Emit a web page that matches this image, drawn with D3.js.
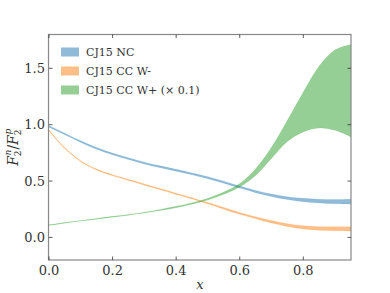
<!DOCTYPE html>
<html>
<head>
<meta charset="utf-8">
<script src="https://cdn.jsdelivr.net/npm/d3@7"></script>
<style>
  body { margin: 0; background: #fff; }
</style>
</head>
<body>
<svg id="chart" width="390" height="293"></svg>
<script>
// x grid shared by all three bands
const xs = [0, 0.05, 0.1, 0.15, 0.2, 0.25, 0.3, 0.35, 0.4, 0.45, 0.5, 0.55, 0.6, 0.65, 0.7, 0.75, 0.8, 0.85, 0.9, 0.95];

// CJ15 NC band
const ncLow  = [0.977, 0.911, 0.843, 0.783, 0.733, 0.691, 0.652, 0.619, 0.588, 0.556, 0.520, 0.481, 0.438, 0.397, 0.363, 0.336, 0.317, 0.305, 0.299, 0.297];
const ncHigh = [0.991, 0.925, 0.857, 0.797, 0.748, 0.706, 0.668, 0.635, 0.604, 0.572, 0.538, 0.499, 0.456, 0.417, 0.385, 0.362, 0.347, 0.339, 0.337, 0.339];

// CJ15 CC W- band
const wmLow  = [0.945, 0.787, 0.672, 0.597, 0.547, 0.506, 0.464, 0.423, 0.382, 0.341, 0.297, 0.251, 0.205, 0.165, 0.128, 0.097, 0.075, 0.064, 0.060, 0.058];
const wmHigh = [0.955, 0.796, 0.681, 0.606, 0.557, 0.516, 0.475, 0.434, 0.393, 0.353, 0.310, 0.265, 0.221, 0.184, 0.150, 0.122, 0.104, 0.096, 0.094, 0.096];

// CJ15 CC W+ band (scaled by 0.1)
const wpLow  = [0.107, 0.127, 0.145, 0.162, 0.180, 0.197, 0.216, 0.239, 0.264, 0.294, 0.332, 0.383, 0.448, 0.550, 0.700, 0.850, 0.935, 0.970, 0.950, 0.890];
const wpHigh = [0.112, 0.132, 0.150, 0.168, 0.187, 0.204, 0.224, 0.249, 0.276, 0.308, 0.348, 0.403, 0.478, 0.610, 0.800, 1.040, 1.290, 1.520, 1.665, 1.712];

const seriesNames = ["CJ15 NC", "CJ15 CC W-", "CJ15 CC W+ (\u00d7 0.1)"];
const seriesColors = ["#1f77b4", "#ff7f0e", "#2ca02c"];
const xTicks = [0, 0.2, 0.4, 0.6, 0.8];
const yTicks = [0, 0.5, 1.0, 1.5];

const width = 390, height = 293;
const margin = { top: 34.5, right: 39, bottom: 33, left: 49 };
const font = "'DejaVu Serif', 'Liberation Serif', serif";

const svg = d3.select('#chart').attr('font-family', font);

const x = d3.scaleLinear().domain([0, 0.95]).range([margin.left, width - margin.right]);
const y = d3.scaleLinear().domain([-0.2, 1.8]).range([height - margin.bottom, margin.top]);

const bands = [
  { low: ncLow, high: ncHigh },
  { low: wmLow, high: wmHigh },
  { low: wpLow, high: wpHigh }
];

const area = d3.area()
  .x((d, i) => x(xs[i]))
  .curve(d3.curveCatmullRom.alpha(0.5));

// clip to plotting region
svg.append('clipPath').attr('id', 'clip')
  .append('rect')
  .attr('x', x(0)).attr('y', y(1.8))
  .attr('width', x(0.95) - x(0)).attr('height', y(-0.2) - y(1.8));

const plot = svg.append('g').attr('clip-path', 'url(#clip)');

bands.forEach((b, k) => {
  plot.append('path')
    .datum(xs)
    .attr('d', area.y0((d, i) => y(b.low[i])).y1((d, i) => y(b.high[i])))
    .attr('fill', seriesColors[k])
    .attr('fill-opacity', 0.5)
    .attr('stroke', seriesColors[k])
    .attr('stroke-opacity', 0.2)
    .attr('stroke-width', 0.5);
});

// frame
const x0 = x(0), x1 = x(0.95), y0 = y(-0.2), y1 = y(1.8);
svg.append('rect')
  .attr('x', x0 - 0.5).attr('y', y1)
  .attr('width', x1 - x0 + 0.5).attr('height', y0 - y1)
  .attr('fill', 'none')
  .attr('stroke', '#888')
  .attr('stroke-width', 1.2);

// inward ticks on all four sides
const tickLen = 3.5;
const ticks = svg.append('g').attr('stroke', '#333').attr('stroke-width', 0.8);
xTicks.forEach(t => {
  ticks.append('line').attr('x1', x(t)).attr('x2', x(t)).attr('y1', y0).attr('y2', y0 - tickLen);
  ticks.append('line').attr('x1', x(t)).attr('x2', x(t)).attr('y1', y1).attr('y2', y1 + tickLen);
});
yTicks.forEach(t => {
  ticks.append('line').attr('x1', x0).attr('x2', x0 + tickLen).attr('y1', y(t)).attr('y2', y(t));
  ticks.append('line').attr('x1', x1).attr('x2', x1 - tickLen).attr('y1', y(t)).attr('y2', y(t));
});

// tick labels
svg.append('g').selectAll('text')
  .data(xTicks)
  .join('text')
  .attr('x', d => x(d))
  .attr('y', y0 + 15)
  .attr('text-anchor', 'middle')
  .style('font-size', '13px')
  .attr('fill', '#333')
  .text(d => d.toFixed(1));

svg.append('g').selectAll('text')
  .data(yTicks)
  .join('text')
  .attr('x', x0 - 4)
  .attr('y', d => y(d))
  .attr('dy', '0.35em')
  .attr('text-anchor', 'end')
  .style('font-size', '13px')
  .attr('fill', '#333')
  .text(d => d.toFixed(1));

// axis titles
svg.append('text')
  .attr('x', (x0 + x1) / 2)
  .attr('y', 289)
  .attr('text-anchor', 'middle')
  .style('font-size', '13px')
  .style('font-style', 'italic')
  .attr('fill', '#333')
  .text('x');

const yl = svg.append('text')
  .attr('transform', `translate(18, ${(y0 + y1) / 2}) rotate(-90)`)
  .attr('text-anchor', 'middle')
  .style('font-size', '14px')
  .attr('fill', '#333');
yl.append('tspan').style('font-style', 'italic').text('F');
yl.append('tspan').attr('dy', 3).style('font-size', '9px').text('2');
yl.append('tspan').attr('dx', -5).attr('dy', -10).style('font-size', '9px').style('font-style', 'italic').text('n');
yl.append('tspan').attr('dy', 7).text('/');
yl.append('tspan').style('font-style', 'italic').text('F');
yl.append('tspan').attr('dy', 3).style('font-size', '9px').text('2');
yl.append('tspan').attr('dx', -5).attr('dy', -10).style('font-size', '9px').style('font-style', 'italic').text('p');

// legend
const legend = svg.append('g');
seriesNames.forEach((name, k) => {
  const ly = 52 + k * 19;
  legend.append('rect')
    .attr('x', 61).attr('y', ly - 4.5)
    .attr('width', 18).attr('height', 9)
    .attr('fill', seriesColors[k])
    .attr('fill-opacity', 0.5);
  legend.append('text')
    .attr('x', 86).attr('y', ly)
    .attr('dy', '0.35em')
    .style('font-size', '11px')
    .attr('fill', '#333')
    .text(name);
});
</script>
</body>
</html>
